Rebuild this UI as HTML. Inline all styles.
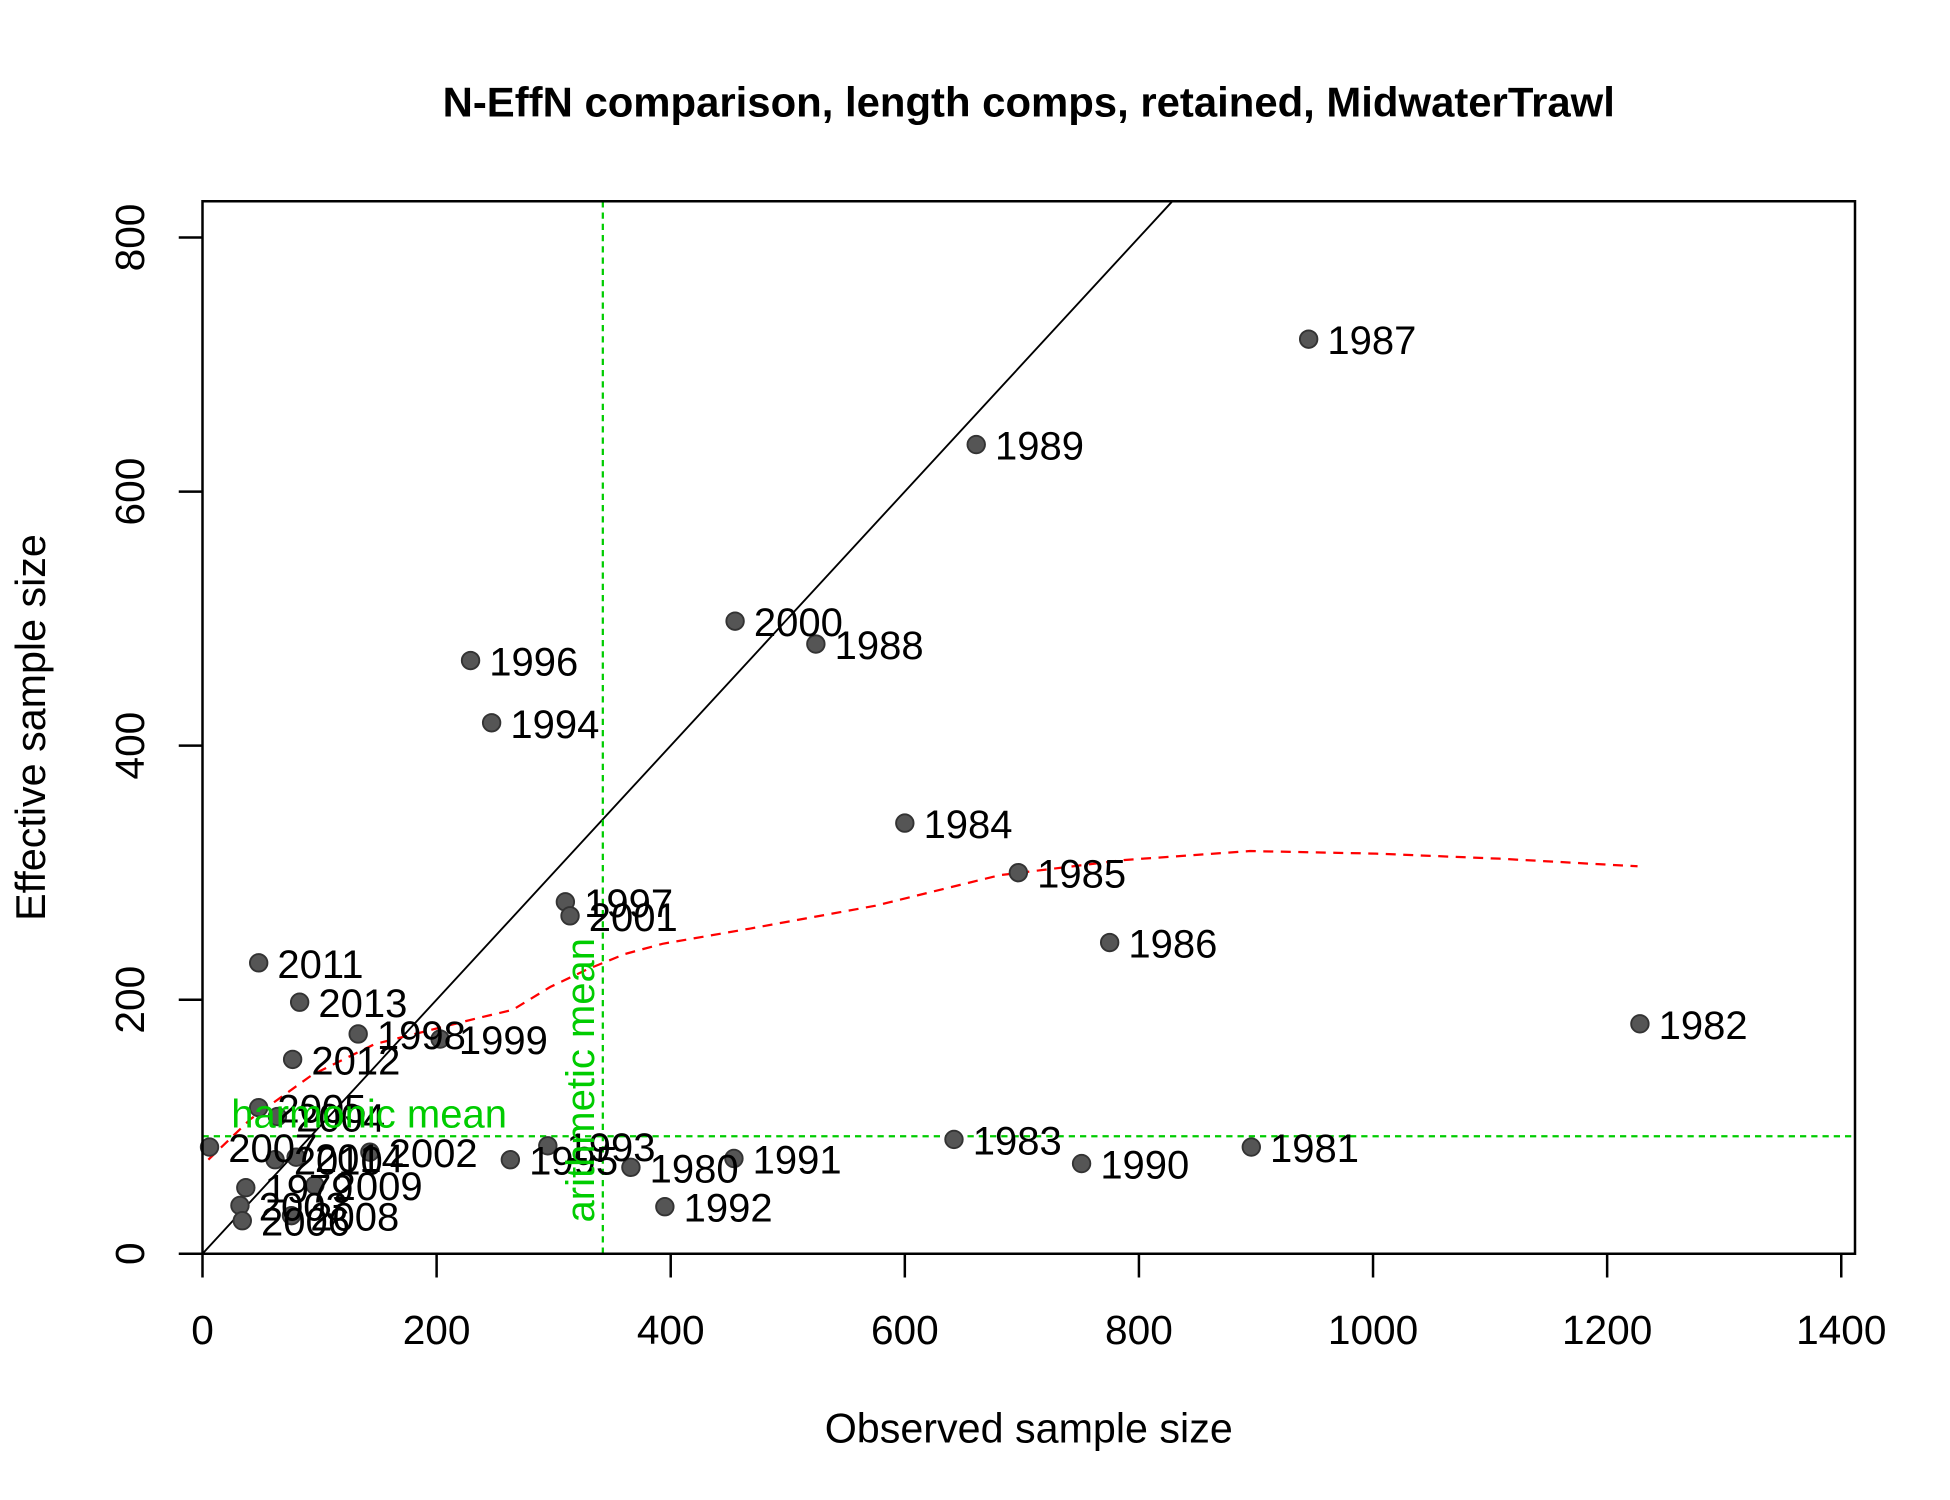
<!DOCTYPE html>
<html><head><meta charset="utf-8"><style>
html,body{margin:0;padding:0;background:#fff}
svg{display:block;font-family:"Liberation Sans",Arial,sans-serif}
</style></head><body>
<svg id="chart" width="1950" height="1500" viewBox="0 0 1560 1200" xmlns="http://www.w3.org/2000/svg">
<rect width="1560" height="1200" fill="#fff"/>
<text x="823" y="93" text-anchor="middle" font-size="33.5" font-weight="bold">N-EffN comparison, length comps, retained, MidwaterTrawl</text>
<text x="823" y="1154" text-anchor="middle" font-size="33">Observed sample size</text>
<text transform="translate(36,582) rotate(-90)" text-anchor="middle" font-size="33">Effective sample size</text>
<g id="axes"></g>
<g id="marks"></g>
<rect x="162" y="161" width="1322" height="842" fill="none" stroke="#000" stroke-width="2"/>
</svg>
<script>
const years=[1987,1989,2000,1988,1996,1994,1984,1985,1997,2001,1986,2011,2013,1982,1998,1999,2012,2005,2004,1983,2007,1981,1993,1995,1980,1991,1990,2002,2014,2010,1979,2009,2003,2006,2008,1992];
const obsN=[945,661,455,524,229,247,600,697,310,314,775,48,83,1228,133,203,77,48,64,642,6,896,295,263,366,454,751,143,80,62,37,96,32,34,76,395];
const effN=[720,637,498,480,467,418,339,300,277,266,245,229,198,181,173,169,153,115,108,90,84,84,85,74,68,75,71,80,76,74,52,54,38,26,30,37];
const smoothX=[5,41,94,147,233,265,297,329,361,393,468,575,681,788,895,1002,1108,1226];
const smoothY=[74,106,141,165,185,192,210,224,236,244,256,274,298,310,317,315,311,305];
const xTicks=[0,200,400,600,800,1000,1200,1400];
const yTicks=[0,200,400,600,800];
const harmonicMean=[92.5];
const arithmeticMean=[342];
const NS="http://www.w3.org/2000/svg";
const X=v=>162+v*0.93643;
const Y=v=>1003-v*1.01625;
function mk(tag,attrs,parent,txt){const e=document.createElementNS(NS,tag);for(const k in attrs)e.setAttribute(k,attrs[k]);if(txt!==undefined)e.textContent=txt;parent.appendChild(e);return e;}
const axes=document.getElementById('axes'),marks=document.getElementById('marks');
let e=mk('line',{x1:X(0),x2:X(1400),y1:1003,y2:1003,stroke:'#000','stroke-width':2},axes);


xTicks.forEach(t=>{
 const l=mk('line',{x1:X(t),x2:X(t),y1:1003,y2:1022,stroke:'#000','stroke-width':2},axes);
 
 
 const tx=mk('text',{x:X(t),y:1075,'text-anchor':'middle','font-size':32.5},axes,String(t));
 
 
});
yTicks.forEach(t=>{
 const l=mk('line',{x1:143,x2:162,y1:Y(t),y2:Y(t),stroke:'#000','stroke-width':2},axes);
 
 
 const tx=mk('text',{transform:`translate(115,${Y(t)}) rotate(-90)`,'text-anchor':'middle','font-size':32.5},axes,String(t));
 
 
});
e=mk('line',{x1:X(0),y1:Y(0),x2:X(828),y2:Y(828),stroke:'#000','stroke-width':1.5},marks);


e=mk('line',{x1:162,x2:1484,y1:Y(harmonicMean[0]),y2:Y(harmonicMean[0]),stroke:'#00cc00','stroke-width':1.8,'stroke-dasharray':'5,4'},marks);


e=mk('line',{x1:X(arithmeticMean[0]),x2:X(arithmeticMean[0]),y1:161,y2:1003,stroke:'#00cc00','stroke-width':1.8,'stroke-dasharray':'5,4'},marks);


e=mk('polyline',{points:smoothX.map((x,i)=>X(x)+','+Y(smoothY[i])).join(' '),fill:'none',stroke:'#ff0000','stroke-width':1.8,'stroke-dasharray':'8,6'},marks);


years.forEach((yr,i)=>{
 const c=mk('circle',{cx:X(obsN[i]),cy:Y(effN[i]),r:7,fill:'#555','stroke':'#333','stroke-width':1.5},marks);
 
 
});
years.forEach((yr,i)=>{
 const t=mk('text',{x:X(obsN[i])+15,y:Y(effN[i])+12,'font-size':32},marks,String(yr));
 
 
});
e=mk('text',{x:185,y:Y(harmonicMean[0])-7,'font-size':32,fill:'#00cc00'},marks,'harmonic mean');


e=mk('text',{transform:`translate(${X(arithmeticMean[0])-7},${Y(0)-25}) rotate(-90)`,'font-size':32,fill:'#00cc00'},marks,'arithmetic mean');


</script>
</body></html>
